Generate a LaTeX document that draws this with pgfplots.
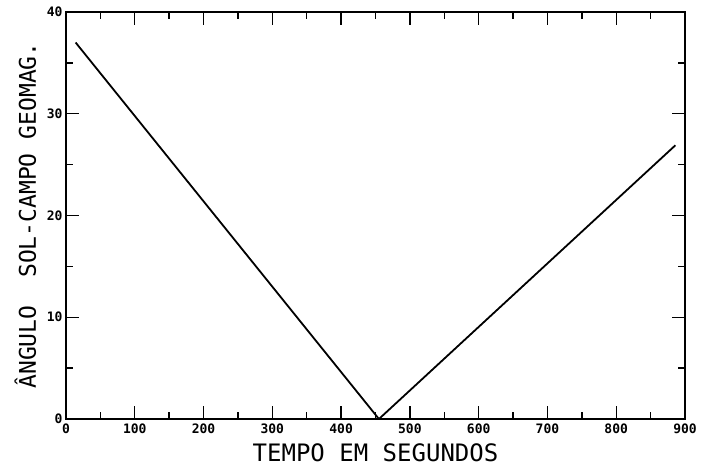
\documentclass[border=0pt]{standalone}
\usepackage{fontspec}
\setmainfont{DejaVu Sans}
\newfontfamily\lettering{DejaVu Sans Mono}
\usepackage{pgfplots}
\pgfplotsset{compat=1.18}
\begin{document}
\begin{tikzpicture}
\useasboundingbox (-66pt,-49pt) rectangle (637pt,419pt);
\begin{axis}[
  at={(0pt,0pt)}, anchor=south west,
  scale only axis, width=619pt, height=407pt,
  xmin=0, xmax=900, ymin=0, ymax=40,
  xtick={0,100,...,900}, ytick={0,10,...,40},
  minor xtick={50,150,...,850}, minor ytick={5,15,...,35},
  tick align=inside,
  major tick length=13pt, minor tick length=7pt,
  every tick/.style={black, line width=1.4pt},
  axis line style={line width=1.6pt},
  /pgf/number format/assume math mode=true,
  tick label style={font=\lettering\bfseries\fontsize{13}{13}\selectfont},
  xticklabel style={yshift=-1pt},
  xlabel={TEMPO EM SEGUNDOS},
  ylabel={ÂNGULO\ \ SOL-CAMPO GEOMAG.},
  xlabel style={at={(axis description cs:0.5,-0.1032)}, anchor=base, font=\lettering\fontsize{24}{24}\selectfont},
  ylabel style={at={(axis description cs:-0.0485,0.5)}, anchor=base, rotate=0, font=\lettering\fontsize{23}{23}\selectfont},
]
\addplot[black, line width=1.8pt] coordinates {(14,37.0) (455,0) (886,26.9)};
\end{axis}
\end{tikzpicture}
\end{document}
